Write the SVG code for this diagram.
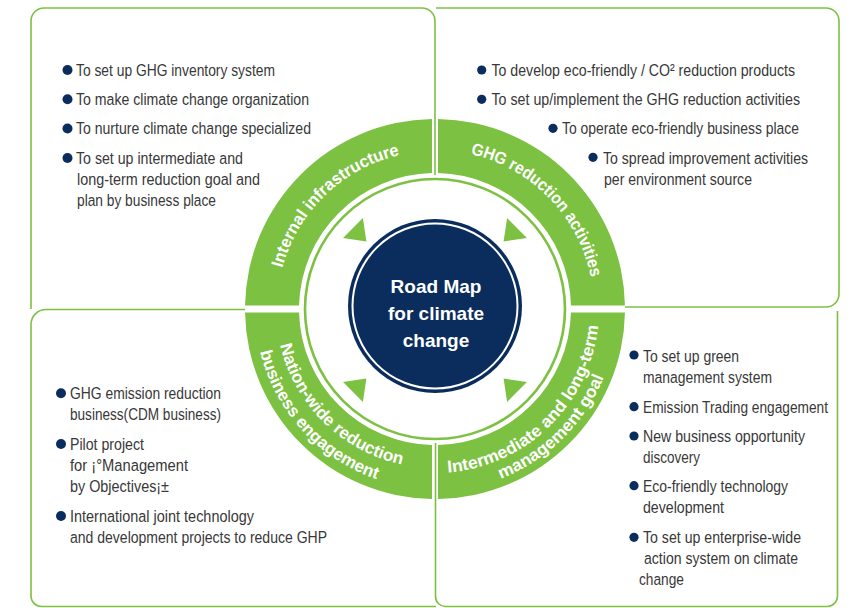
<svg xmlns="http://www.w3.org/2000/svg" width="859" height="608" viewBox="0 0 859 608">
<style>
.box{fill:none;stroke:#7cc142;stroke-width:1.6}
.band{fill:#7cc142}
.tri{fill:#7cc142}
.bul{fill:#0b2d5e}
.t{font-family:"Liberation Sans Narrow","Liberation Sans",Arial,sans-serif;font-size:17.2px;fill:#383838}
.rl{font-family:"Liberation Sans",Arial,sans-serif;font-size:17px;font-weight:bold;fill:#ffffff}
.ct{font-family:"Liberation Sans",Arial,sans-serif;font-size:19px;font-weight:bold;fill:#ffffff;text-anchor:middle}
</style>
<defs>
<path id="tr" d="M532,310 L551,296 L551,324 Z"/>
<path id="p1" d="M277,309 A158,158 0 0 1 435,151"/>
<path id="p2" d="M435,150 A159,159 0 0 1 594,309"/>
<path id="p3a" d="M276,309 A159,159 0 0 0 435,468"/>
<path id="p3b" d="M255,309 A180,180 0 0 0 435,489"/>
<path id="p4a" d="M435,473 A164,164 0 0 0 599,309"/>
<path id="p4b" d="M435,491 A182,182 0 0 0 617,309"/>
</defs>

<g id="connectors">
<path class="box" d="M31,309 V21 A13,13 0 0 1 44,8 H422 A13,13 0 0 1 435,21 V175"/>
<path class="box" d="M436,8 H826 A13,13 0 0 1 839,21 V294 A13,13 0 0 1 826,307 H625"/>
<path class="box" d="M837.5,311 V596 A10.5,10.5 0 0 1 827,606.5 H446 A10,10 0 0 1 435.5,596.5 V443"/>
<path class="box" d="M245,309.5 H46 A15,15 0 0 0 31,324.5 V596 A10.5,10.5 0 0 0 41.5,606.5 H436"/>
</g>

<g id="ring">
<path class="band" d="M432,119.02 A190,190 0 0 0 245.03,305.5 L299.05,305.5 A136,136 0 0 1 432,173.03 Z"/>
<path class="band" d="M438,119.02 A190,190 0 0 1 624.97,305.5 L570.95,305.5 A136,136 0 0 0 438,173.03 Z"/>
<path class="band" d="M624.97,312.5 A190,190 0 0 1 438,498.98 L438,444.97 A136,136 0 0 0 570.95,312.5 Z"/>
<path class="band" d="M432,498.98 A190,190 0 0 1 245.03,312.5 L299.05,312.5 A136,136 0 0 0 432,444.97 Z"/>
<circle cx="435" cy="309" r="130" fill="none" stroke="#7cc142" stroke-width="2.6"/>
<use href="#tr" class="tri" transform="rotate(225 435 310)"/>
<use href="#tr" class="tri" transform="rotate(315 435 310)"/>
<use href="#tr" class="tri" transform="rotate(45 435 310)"/>
<use href="#tr" class="tri" transform="rotate(135 435 310)"/>
</g>

<g id="node-internal">
<text class="rl"><textPath href="#p1" startOffset="126.9" text-anchor="middle" textLength="171" lengthAdjust="spacingAndGlyphs">Internal infrastructure</textPath></text>
</g>
<g id="node-ghg">
<text class="rl"><textPath href="#p2" startOffset="126.8" text-anchor="middle" textLength="182" lengthAdjust="spacingAndGlyphs">GHG reduction activities</textPath></text>
</g>
<g id="node-nation">
<text class="rl"><textPath href="#p3a" startOffset="126.3" text-anchor="middle" textLength="180" lengthAdjust="spacingAndGlyphs">Nation-wide reduction</textPath></text>
<text class="rl"><textPath href="#p3b" startOffset="133.2" text-anchor="middle" textLength="180" lengthAdjust="spacingAndGlyphs">business engagement</textPath></text>
</g>
<g id="node-goal">
<text class="rl"><textPath href="#p4a" startOffset="126.8" text-anchor="middle" textLength="228" lengthAdjust="spacingAndGlyphs">Intermediate and long-term</textPath></text>
<text class="rl"><textPath href="#p4b" startOffset="141.7" text-anchor="middle" textLength="149" lengthAdjust="spacingAndGlyphs">management goal</textPath></text>
</g>

<g id="node-center">
<circle cx="435" cy="306" r="87" fill="#0b2d5e"/>
<circle cx="435" cy="306" r="82.5" fill="none" stroke="#ffffff" stroke-width="2"/>
<text class="ct" x="436" y="293">Road Map</text>
<text class="ct" x="436" y="320">for climate</text>
<text class="ct" x="436" y="347">change</text>
</g>

<g id="node-topleft">
<circle class="bul" cx="67.5" cy="70" r="5"/>
<circle class="bul" cx="67.5" cy="99.3" r="5"/>
<circle class="bul" cx="67.5" cy="128.5" r="5"/>
<circle class="bul" cx="67.5" cy="158" r="5"/>
<text class="t" x="76" y="76" textLength="199" lengthAdjust="spacingAndGlyphs">To set up GHG inventory system</text>
<text class="t" x="76" y="105" textLength="233" lengthAdjust="spacingAndGlyphs">To make climate change organization</text>
<text class="t" x="76" y="134" textLength="235" lengthAdjust="spacingAndGlyphs">To nurture climate change specialized</text>
<text class="t" x="76" y="163.5" textLength="167" lengthAdjust="spacingAndGlyphs">To set up intermediate and</text>
<text class="t" x="77" y="184.5" textLength="183" lengthAdjust="spacingAndGlyphs">long-term reduction goal and</text>
<text class="t" x="77" y="205.5" textLength="139" lengthAdjust="spacingAndGlyphs">plan by business place</text>
</g>

<g id="node-topright">
<circle class="bul" cx="481.7" cy="70" r="4.6"/>
<circle class="bul" cx="481.7" cy="99.3" r="4.6"/>
<circle class="bul" cx="553" cy="128.3" r="4.6"/>
<circle class="bul" cx="593" cy="157.3" r="4.6"/>
<text class="t" x="491.5" y="76" textLength="303.5" lengthAdjust="spacingAndGlyphs">To develop eco-friendly / CO² reduction products</text>
<text class="t" x="491.5" y="105" textLength="308.5" lengthAdjust="spacingAndGlyphs">To set up/implement the GHG reduction activities</text>
<text class="t" x="562" y="134" textLength="237" lengthAdjust="spacingAndGlyphs">To operate eco-friendly business place</text>
<text class="t" x="603" y="163.5" textLength="205" lengthAdjust="spacingAndGlyphs">To spread improvement activities</text>
<text class="t" x="604" y="184.5" textLength="148" lengthAdjust="spacingAndGlyphs">per environment source</text>
</g>

<g id="node-bottomleft">
<circle class="bul" cx="61" cy="393.3" r="5"/>
<circle class="bul" cx="61" cy="444" r="5"/>
<circle class="bul" cx="61" cy="516" r="5"/>
<text class="t" x="70" y="399" textLength="151" lengthAdjust="spacingAndGlyphs">GHG emission reduction</text>
<text class="t" x="70" y="420" textLength="151" lengthAdjust="spacingAndGlyphs">business(CDM business)</text>
<text class="t" x="70" y="450" textLength="74" lengthAdjust="spacingAndGlyphs">Pilot project</text>
<text class="t" x="70" y="471" textLength="118" lengthAdjust="spacingAndGlyphs">for ¡°Management</text>
<text class="t" x="70" y="492" textLength="99" lengthAdjust="spacingAndGlyphs">by Objectives¡±</text>
<text class="t" x="70" y="522" textLength="184" lengthAdjust="spacingAndGlyphs">International joint technology</text>
<text class="t" x="70" y="543" textLength="257" lengthAdjust="spacingAndGlyphs">and development projects to reduce GHP</text>
</g>

<g id="node-bottomright">
<circle class="bul" cx="634" cy="355" r="4.6"/>
<circle class="bul" cx="634" cy="406.7" r="4.6"/>
<circle class="bul" cx="634" cy="436" r="4.6"/>
<circle class="bul" cx="634" cy="485.7" r="4.6"/>
<circle class="bul" cx="634" cy="537.3" r="4.6"/>
<text class="t" x="643" y="361.5" textLength="96" lengthAdjust="spacingAndGlyphs">To set up green</text>
<text class="t" x="643" y="382.5" textLength="129" lengthAdjust="spacingAndGlyphs">management system</text>
<text class="t" x="643" y="413" textLength="185" lengthAdjust="spacingAndGlyphs">Emission Trading engagement</text>
<text class="t" x="643" y="442" textLength="162" lengthAdjust="spacingAndGlyphs">New business opportunity</text>
<text class="t" x="643" y="463" textLength="57" lengthAdjust="spacingAndGlyphs">discovery</text>
<text class="t" x="643" y="492" textLength="145" lengthAdjust="spacingAndGlyphs">Eco-friendly technology</text>
<text class="t" x="643" y="513" textLength="81" lengthAdjust="spacingAndGlyphs">development</text>
<text class="t" x="643" y="543" textLength="158" lengthAdjust="spacingAndGlyphs">To set up enterprise-wide</text>
<text class="t" x="644" y="564" textLength="154" lengthAdjust="spacingAndGlyphs">action system on climate</text>
<text class="t" x="639" y="585" textLength="45" lengthAdjust="spacingAndGlyphs">change</text>
</g>
</svg>
